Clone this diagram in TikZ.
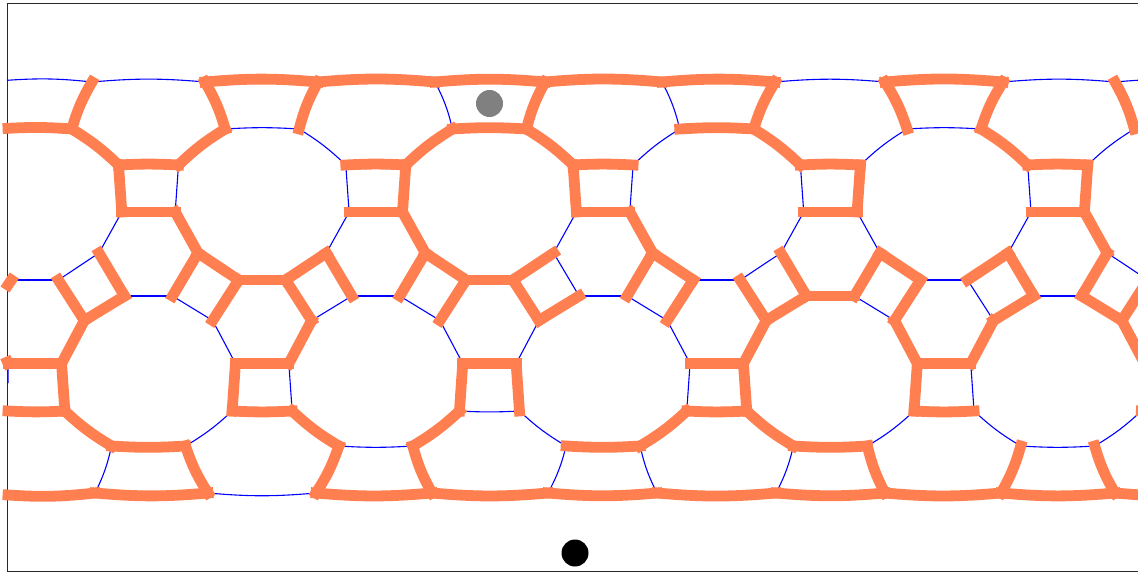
\documentclass[tikz,border=0pt]{standalone}
\definecolor{coral}{RGB}{255,127,80}
\definecolor{framecol}{RGB}{40,40,40}
\tikzset{
  thk/.style={draw=coral,line width=10.8pt,line cap=rect},
  thn/.style={draw=blue,line width=1.1pt},
  frameline/.style={draw=framecol,line width=1pt},
  longup/.style={bend left=5},
  longdown/.style={bend right=5},
  shortleft/.style={bend left=3.5},
  shortright/.style={bend right=3.5},
  flatleft/.style={bend left=3},
  flatright/.style={bend right=3},
  sideleft/.style={bend left=7},
  sideright/.style={bend right=7},
  diagleft/.style={bend left=6},
  diagright/.style={bend right=6}
}
\begin{document}
\begin{tikzpicture}[x=1pt,y=-1pt]
\clip (0,0) rectangle (1138,572);
% vertices of the repeating cell
\foreach \k/\c in {m/-78.8,0/148.5,1/375.8,2/603.1,3/830.4,4/1057.7,5/1285}{
  \pgfmathsetmacro{\d}{\c+113.65}
  \coordinate (C\k) at ({\d-37},129);
  \coordinate (D\k) at ({\d+37},129);
  \coordinate (E\k) at ({\c-30},165);
  \coordinate (F\k) at ({\c+30},165);
  \coordinate (G\k) at ({\c-26.7},212);
  \coordinate (H\k) at ({\c+26.7},212);
  \coordinate (I\k) at ({\c+49.5},253);
  \coordinate (J\k) at ({\c-49.5},253);
  \coordinate (K\k) at ({\c-24},296);
  \coordinate (L\k) at ({\c+24},296);
  \coordinate (M\k) at ({\d-23.5},280);
  \coordinate (P\k) at ({\d+23.5},280);
  \coordinate (N\k) at ({\d-49.5},320.5);
  \coordinate (Q\k) at ({\d+49.5},320.5);
  \coordinate (S\k) at ({\d-26.7},363.5);
  \coordinate (R\k) at ({\d+26.7},363.5);
  \coordinate (W\k) at ({\d-30},411);
  \coordinate (X\k) at ({\d+30},411);
  \coordinate (T\k) at ({\c-37},446);
  \coordinate (U\k) at ({\c+37},446);
}
\foreach \k/\a/\b in {m/-21/92,0/205/318,1/435/545,2/662/775,3/885/1003,4/1115/1228}{
  \coordinate (TA\k) at (\a,82);
  \coordinate (TB\k) at (\b,82);
}
\foreach \k/\a/\b in {m/-135/-22,0/95/208,1/316/432,2/548/657,3/776/885,4/1001/1115,5/1228/1340}{
  \coordinate (BA\k) at (\a,493);
  \coordinate (BB\k) at (\b,493);
}
\coordinate (leftTop) at (7,80.3);
\coordinate (leftUpper) at (8,128.3);
\coordinate (leftStubM) at (8,285);
\coordinate (leftStubS) at (7.5,362);
\coordinate (leftStubW) at (8,383);
\coordinate (leftLower) at (8,411);
\coordinate (leftBottom) at (8,495);

% frame
\draw[frameline] (7,3.5) rectangle (1145,571.5);

% thin blue edges
\foreach \a/\b in {leftTop/TBm,TBm/TA0,TB2/TA3,TB3/TA4,TA4/TB4}
  \draw[thn] (\a) to[longup] (\b);
\foreach \a/\b in {TA1/C1,TA2/C2}
  \draw[thn] (\a) to[sideleft] (\b);
\foreach \a/\b in {C0/D0,C3/D3,C4/D4}
  \draw[thn] (\a) to[shortleft] (\b);
\foreach \a/\b in {F2/C2,F3/C3,F4/C4,D0/E1}
  \draw[thn] (\a) to[diagleft] (\b);
\foreach \a/\b in {E1/G1,E3/G3,E4/G4,F0/H0,F2/H2,
  G0/J0,G1/J1,G2/J2,G3/J3,G4/J4,H3/I3,
  K0/L0,K1/L1,K2/L2,K4/L4,J2/K2,J0/Pm,J3/P2,I4/M4,
  Mm/Pm,M2/P2,M3/P3,P3/Q3,Q0/K1,N0/L0,N1/L1,N2/L2,N3/L3,
  N0/S0,N1/S1,N2/S2,Q1/R1,Sm/leftStubW,S2/W2,R0/X0,R3/X3}
  \draw[thn] (\a) -- (\b);
\draw[thn] (W1) to[flatright] (X1);
\foreach \a/\b in {X1/T2,X3/T4}
  \draw[thn] (\a) to[diagright] (\b);
\foreach \a/\b in {W0/U0,W3/U3,W4/U4}
  \draw[thn] (\a) to[diagleft] (\b);
\foreach \a/\b in {T1/U1,T4/U4}
  \draw[thn] (\a) to[shortright] (\b);
\foreach \a/\b in {T0/BA0,T2/BA2,T3/BA3}
  \draw[thn] (\a) to[sideleft] (\b);
\draw[thn] (U2) to[sideright] (BB2);
\draw[thn] (BB0) to[longdown] (BA1);

% thick coral edges
\foreach \a/\b in {TA0/TB0,TB0/TA1,TA1/TB1,TB1/TA2,TA2/TB2,TA3/TB3}
  \draw[thk] (\a) to[longup] (\b);
\foreach \a/\b in {TA0/C0,TA3/C3,TA4/C4}
  \draw[thk] (\a) to[sideleft] (\b);
\foreach \a/\b in {TBm/Dm,TB0/D0,TB1/D1,TB2/D2,TB3/D3}
  \draw[thk] (\a) to[sideright] (\b);
\foreach \a/\b in {leftUpper/Dm,C1/D1,C2/D2}
  \draw[thk] (\a) to[shortleft] (\b);
\foreach \a/\b in {F0/C0,F1/C1,Dm/E0,D1/E2,D2/E3,D3/E4}
  \draw[thk] (\a) to[diagleft] (\b);
\foreach \a/\b in {E0/F0,E1/F1,E2/F2,E3/F3,E4/F4}
  \draw[thk] (\a) to[flatleft] (\b);
\foreach \a/\b in {leftLower/Xm,W0/X0,W2/X2,W3/X3,W4/X4}
  \draw[thk] (\a) to[flatright] (\b);
\foreach \a/\b in {
  G0/H0,G1/H1,G2/H2,G3/H3,G4/H4,
  E0/G0,E2/G2,F1/H1,F3/H3,F4/H4,
  H0/I0,H1/I1,H2/I2,H4/I4,K3/L3,
  I0/L0,I1/L1,I2/L2,I3/L3,I4/L4,
  J0/K0,J1/K1,J3/K3,J4/K4,
  J1/P0,J2/P1,J4/P3,I0/M0,I1/M1,I2/M2,I3/M3,
  M0/P0,M1/P1,M0/N0,M1/N1,M2/N2,M3/N3,M4/N4,Mm/leftStubM,
  Pm/Qm,P0/Q0,P1/Q1,P2/Q2,
  Qm/K0,Q1/K2,Q2/K3,Q3/K4,N4/L4,
  N3/S3,N4/S4,Qm/Rm,Q0/R0,Q2/R2,Q3/R3,
  Sm/leftStubS,Sm/Rm,S0/R0,S1/R1,S2/R2,S3/R3,
  S0/W0,S1/W1,S3/W3,Rm/Xm,R1/X1,R2/X2}
  \draw[thk] (\a) -- (\b);
\foreach \a/\b in {Xm/T0,X0/T1,X2/T3}
  \draw[thk] (\a) to[diagright] (\b);
\foreach \a/\b in {W1/U1,W2/U2}
  \draw[thk] (\a) to[diagleft] (\b);
\foreach \a/\b in {T0/U0,T2/U2,T3/U3}
  \draw[thk] (\a) to[shortright] (\b);
\foreach \a/\b in {T1/BA1,T4/BA4}
  \draw[thk] (\a) to[sideleft] (\b);
\foreach \a/\b in {U0/BB0,U1/BB1,U3/BB3,U4/BB4}
  \draw[thk] (\a) to[sideright] (\b);
\foreach \a/\b in {leftBottom/BA0,BA0/BB0,BA1/BB1,BB1/BA2,BA2/BB2,BB2/BA3,BA3/BB3,BB3/BA4,BA4/BB4,BB4/BA5}
  \draw[thk] (\a) to[longdown] (\b);

% markers
\fill[gray] (489.5,103.5) circle[radius=13.5pt];
\fill[black] (575,553) circle[radius=13.5pt];
\end{tikzpicture}
\end{document}
